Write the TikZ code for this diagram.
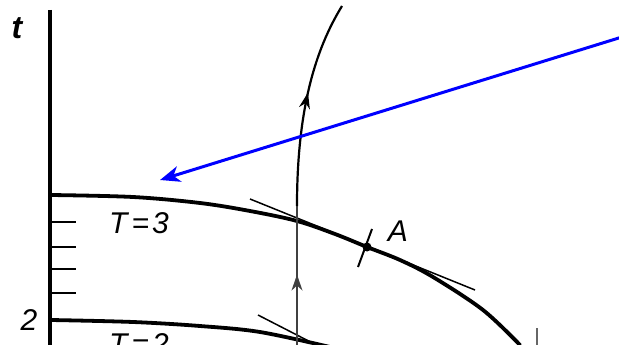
\documentclass[tikz,border=0pt]{standalone}
\usepackage{fontspec}
\setmainfont{Liberation Sans}
\usetikzlibrary{arrows.meta,decorations.markings}
\begin{document}
\begin{tikzpicture}[x=1pt,y=-1pt,
  axis/.style={line width=3.8pt},
  level/.style={line width=3.8pt,line cap=round},
  thin/.style={line width=1.5pt},
  lbl/.style={font=\fontsize{30}{31}\selectfont\itshape,inner sep=0pt},
  blue arrow/.style={draw=blue,line width=3pt,-{Stealth[length=20pt,width=16pt,inset=6pt]}},
  midarrow/.style={postaction={decorate},decoration={markings,mark=at position #1 with {\arrow{Stealth[length=16pt,width=11pt]}}}}
]
\useasboundingbox (0,0) rectangle (619,345);
\clip (0,0) rectangle (619,345);
% axis
\coordinate (axtop) at (50,10);
\coordinate (axbot) at (50,350);
\draw[axis] (axtop) -- (axbot);
\node[font=\fontsize{32}{32}\selectfont\bfseries\itshape,inner sep=0pt] (tlab) at (17,28) {t};
\node[lbl] (two) at (29,320) {2};
% ticks
\foreach \y/\n in {222/a,247/b,269/c,293/d}{
  \coordinate (tk\n l) at (50,\y);
  \coordinate (tk\n r) at (76,\y);
  \draw[line width=2pt] (tk\n l) -- (tk\n r);
}
% T=3 curve
\draw[level] plot[smooth,tension=0.55] coordinates {(51,195) (133,197) (200,203) (250,211) (297,221) (335,234) (367,247) (400,260) (433,277) (483,310) (520,345)};
% T=2 curve
\draw[level] plot[smooth,tension=0.55] coordinates {(51,320) (133,322) (200,326) (260,332) (330,347)};
% tangents
\coordinate (tanAa) at (250,199);
\coordinate (tanAb) at (475,290);
\draw[thin] (tanAa) -- (tanAb);
\coordinate (tanBa) at (258,315);
\coordinate (tanBb) at (330,352);
\draw[thin] (tanBa) -- (tanBb);
% point A
\node[circle,fill=black,inner sep=0pt,minimum size=9pt] (A) at (367,247) {};
\coordinate (crossa) at (372,229);
\coordinate (crossb) at (358,267);
\draw[line width=2pt] (crossa) -- (crossb);
\node[lbl] (Alab) at (398,231) {A};
% labels
\node[lbl] (T3) at (139,223) {T\hspace{4pt}=\hspace{3pt}3};
\node[lbl] (T2) at (139,344) {T\hspace{4pt}=\hspace{3pt}2};
% characteristic
\coordinate (chb) at (297,350);
\coordinate (cht) at (342,6);
\draw[line width=1.8pt,draw=black!75,midarrow=0.52] (chb) -- (297,205);
\draw[line width=2.2pt,midarrow=0.55] (297,206) .. controls (297,110) and (315,50) .. (cht);
% small tick bottom right
\coordinate (sta) at (537,328);
\coordinate (stb) at (537,350);
\draw[line width=1.5pt,draw=black!60] (sta) -- (stb);
% blue arrow
\coordinate (bs) at (622,37);
\coordinate (be) at (160,180);
\draw[blue arrow] (bs) -- (be);
\end{tikzpicture}
\end{document}
